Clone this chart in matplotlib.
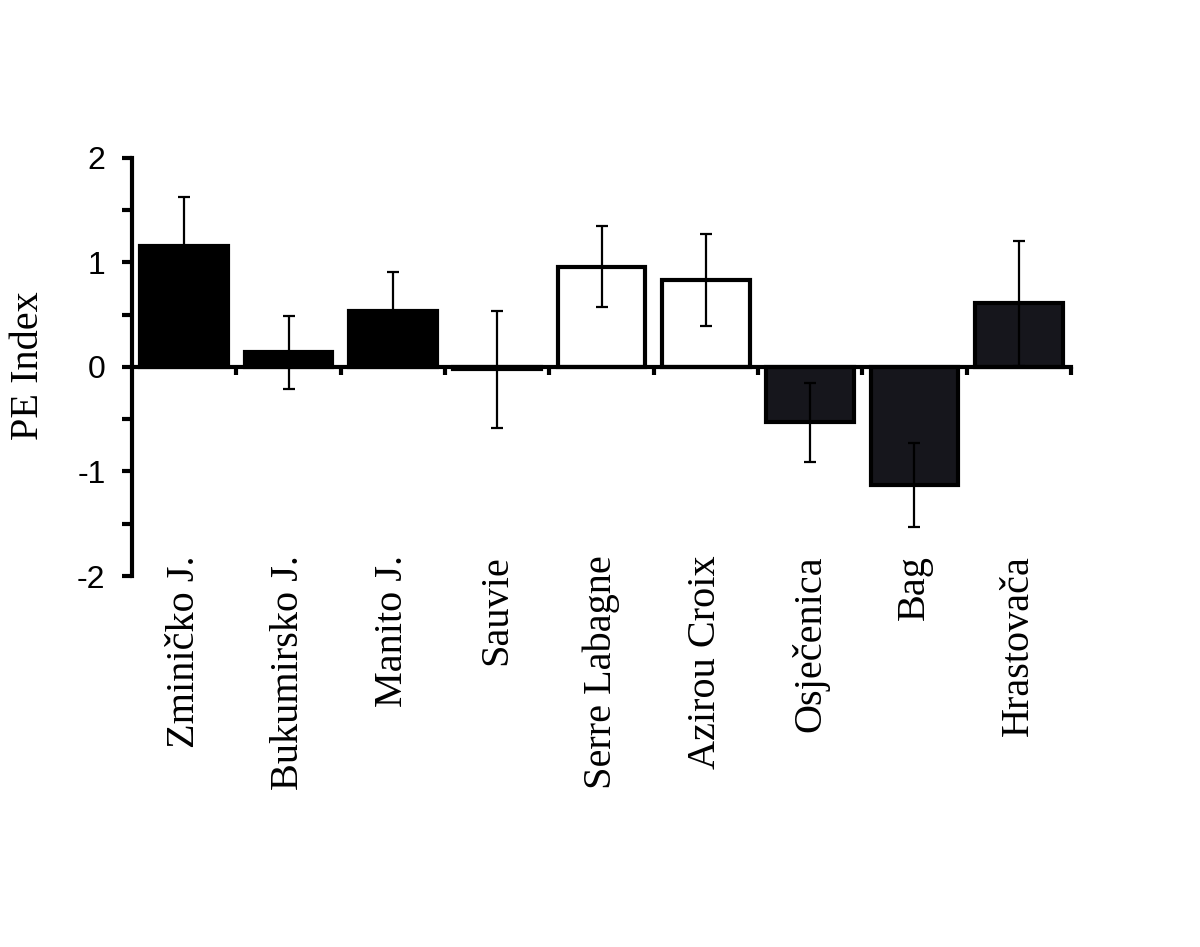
import matplotlib
matplotlib.use("Agg")
import matplotlib.pyplot as plt
from matplotlib.ticker import MultipleLocator, FixedLocator, NullFormatter

plt.rcParams["axes.unicode_minus"] = False

sites = ["Zminičko J.", "Bukumirsko J.", "Manito J.", "Sauvie", "Serre Labagne",
         "Azirou Croix", "Osječenica", "Bag", "Hrastovača"]
pe_index = [1.16, 0.14, 0.54, -0.02, 0.96, 0.83, -0.53, -1.13, 0.61]
pe_err = [0.47, 0.35, 0.37, 0.56, 0.39, 0.44, 0.375, 0.405, 0.60]
fill_colors = ["#000000", "#000000", "#000000", "#000000", "#ffffff",
               "#ffffff", "#16161c", "#16161c", "#16161c"]

fig = plt.figure(figsize=(12, 9.47), dpi=100)
ax = fig.add_axes([132/1200, 1 - 576/947, 939/1200, 418/947])

x = list(range(len(sites)))
ax.bar(x, pe_index, width=0.84, color=fill_colors, edgecolor="black",
       linewidth=3, zorder=2)
ax.errorbar(x, pe_index, yerr=pe_err, fmt="none", ecolor="black",
            elinewidth=1.6, capsize=4, capthick=1.6, zorder=3)

ax.set_xlim(-0.5, len(sites) - 0.5)
ax.set_ylim(-2, 2)

for s in ["top", "right"]:
    ax.spines[s].set_visible(False)
ax.spines["bottom"].set_position(("data", 0))
ax.spines["bottom"].set_linewidth(3)
ax.spines["left"].set_linewidth(3)
ax.spines["bottom"].set_zorder(4)

ax.yaxis.set_major_locator(MultipleLocator(1))
ax.yaxis.set_minor_locator(MultipleLocator(0.5))
ax.tick_params(axis="y", which="both", direction="out", length=7, width=3,
               labelsize=23, pad=12)
for lab in ax.get_yticklabels():
    lab.set_family("Liberation Sans")

ax.xaxis.set_major_locator(FixedLocator([i + 0.5 for i in x]))
ax.xaxis.set_major_formatter(NullFormatter())
ax.tick_params(axis="x", which="both", direction="out", length=6, width=3)

for i, name in zip(x, sites):
    ax.text(i, -1.8, name, rotation=90, ha="center", va="top",
            fontsize=29, family="Liberation Serif")

fig.text(28/1200, 1 - 366/947, "PE Index", rotation=90, ha="center",
         va="center", fontsize=29, family="Liberation Serif")

fig.savefig("out.png", dpi=100)
